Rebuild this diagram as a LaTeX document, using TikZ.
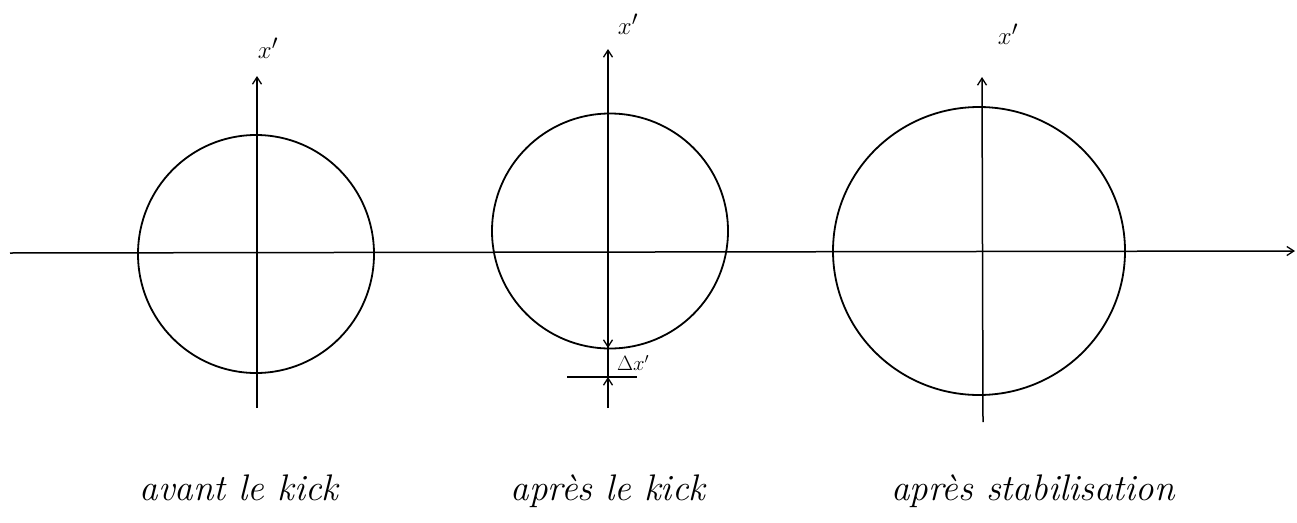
\documentclass[tikz,border=0pt]{standalone}
\usetikzlibrary{arrows.meta,shapes.geometric}
\begin{document}
\begin{tikzpicture}[x=1pt,y=-1pt,
  curve/.style={draw,line width=1.8pt,ellipse,inner sep=0pt},
  axis/.style={line width=1.5pt},
  tip/.style={-{Straight Barb[length=7pt,width=9pt,line width=1.3pt]}},
  axlabel/.style={font=\fontsize{28}{32}\selectfont,inner sep=0pt},
  caption/.style={font=\fontsize{37}{42}\selectfont\itshape,anchor=base,inner sep=0pt}]
\useasboundingbox (0,0) rectangle (1297,522);
% horizontal axis
\coordinate (hL) at (10,253);
\coordinate (hR) at (1295,251);
\draw[axis,tip] (hL) -- (hR);
% circles
\node[curve,minimum width=236pt,minimum height=238pt] (c1) at (256,254) {};
\node[curve,minimum width=236pt,minimum height=235pt] (c2) at (610,231) {};
\node[curve,minimum width=292pt,minimum height=288pt] (c3) at (979,251) {};
% vertical axes
\coordinate (a1b) at (257,408); \coordinate (a1t) at (257,76);
\coordinate (a2b) at (608,408); \coordinate (a2t) at (608,49);
\coordinate (a3b) at (983,422); \coordinate (a3t) at (982,77);
\draw[axis,tip] (a1b) -- (a1t);
\draw[axis,tip] (a2b) -- (a2t);
\draw[axis,tip] (a3b) -- (a3t);
\node[axlabel] (l1) at (268,48) {$x'$};
\node[axlabel] (l2) at (628,24) {$x'$};
\node[axlabel] (l3) at (1008,34) {$x'$};
% delta annotation
\coordinate (dA) at (608,330); \coordinate (dB) at (608,348);
\coordinate (dC) at (608,392); \coordinate (dD) at (608,377);
\coordinate (dL) at (567,377); \coordinate (dR) at (637,377);
\draw[axis,tip] (dA) -- (dB);
\draw[axis,tip] (dC) -- (dD);
\draw[axis] (dL) -- (dR);
\node[font=\fontsize{20}{24}\selectfont,inner sep=0pt] (dl) at (633,363) {$\Delta x'$};
% captions
\node[caption] (t1) at (239,500) {avant le kick};
\node[caption] (t2) at (608,500) {après le kick};
\node[caption] (t3) at (1033,500) {après stabilisation};
\end{tikzpicture}
\end{document}
